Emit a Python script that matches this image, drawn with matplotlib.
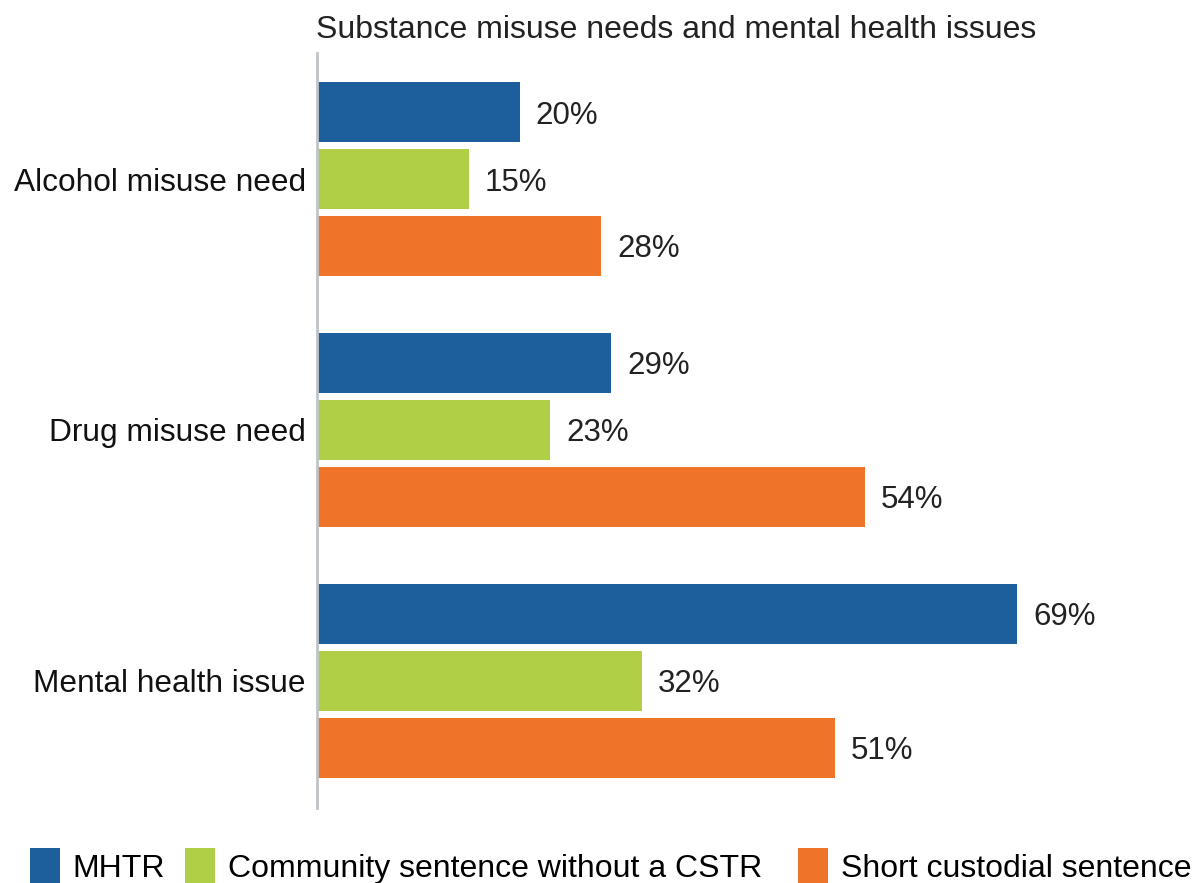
import numpy as np
import matplotlib.pyplot as plt
from matplotlib.patches import Patch

# dados do grafico
categories = ["Alcohol misuse need", "Drug misuse need", "Mental health issue"]
series_names = ["MHTR", "Community sentence without a CSTR", "Short custodial sentence"]
mhtr = [20, 29, 69]
community = [15, 23, 32]
custodial = [28, 54, 51]
colors = ["#1d5f9c", "#b0ce46", "#ef7329"]
title = "Substance misuse needs and mental health issues"

plt.rcParams['font.family'] = ['Liberation Sans', 'DejaVu Sans']

W, H = 1198, 883
fig = plt.figure(figsize=(W / 100, H / 100), dpi=100)
ax = fig.add_axes([317 / W, 75 / H, 873 / W, 755 / H])

y = np.arange(len(categories))
off = 67 / 251
h = 60 / 251
for k, vals in enumerate([mhtr, community, custodial]):
    pos = y + (k - 1) * off
    ax.barh(pos, vals, height=h, color=colors[k], edgecolor='none')
    for p, v in zip(pos, vals):
        ax.text(v + 1.55, p, f"{v}%", va='center_baseline', ha='left', fontsize=22.5, color='#222222')

ax.set_xlim(0, 86)
ax.set_ylim(2.506, -0.502)
ax.set_yticks(y)
ax.set_yticklabels(categories, fontsize=22.8, color='#111111')
ax.tick_params(axis='y', length=0, pad=8)
ax.set_xticks([])
for s in ['top', 'right', 'bottom']:
    ax.spines[s].set_visible(False)
ax.spines['left'].set_color('#c0c4c8')
ax.spines['left'].set_linewidth(2)

fig.text(316 / W, 1 - 30 / H, title, ha='left', va='center', fontsize=23, color='#222222')

# legenda: uma entrada por vez, para imitar o espacamento irregular
leg_x = [30, 185, 798]
for c, name, lx in zip(colors, series_names, leg_x):
    fig.legend([Patch(facecolor=c, edgecolor='none')], [name], loc='center left',
               bbox_to_anchor=(lx / W, 1 - 866 / H), frameon=False,
               handlelength=0.94, handleheight=1.3, handletextpad=0.4,
               borderpad=0, borderaxespad=0, prop={'size': 23})

fig.savefig('out.png', dpi=100)
